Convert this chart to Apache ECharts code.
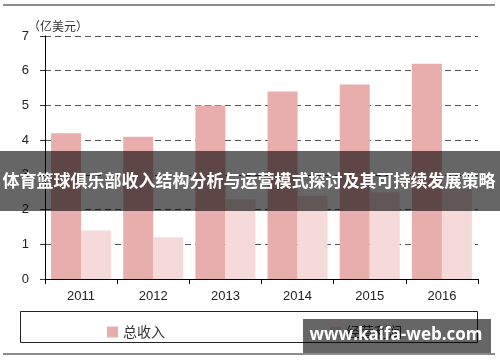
<!DOCTYPE html>
<html>
<head>
<meta charset="utf-8">
<script src="https://cdn.jsdelivr.net/npm/echarts@6/dist/echarts.min.js"></script>
<style>
html,body{margin:0;padding:0;background:#fff;}
#main{width:500px;height:362px;}
</style>
</head>
<body>
<div id="main"></div>
<script>
var categories = ['2011', '2012', '2013', '2014', '2015', '2016'];
var revenue = [4.2, 4.1, 5.0, 5.4, 5.6, 6.2];
var profit = [1.4, 1.2, 2.3, 2.4, 2.5, 2.6];
var seriesNames = ['总收入', '经营利润'];
var unitLabel = '（亿美元）';
var bannerText = '体育篮球俱乐部收入结构分析与运营模式探讨及其可持续发展策略';
var watermarkText = 'www.kaifa-web.com';

var chart = echarts.init(document.getElementById('main'), null, {renderer: 'canvas'});
chart.setOption({
  animation: false,
  backgroundColor: '#fff',
  grid: {left: 45, right: 22, top: 36, bottom: 83},
  legend: {
    left: 102, top: 320,
    itemWidth: 11, itemHeight: 11, itemGap: 165,
    icon: 'rect',
    textStyle: {fontFamily: 'Noto Sans CJK SC', fontSize: 14, color: '#333'},
    data: seriesNames
  },
  xAxis: {
    type: 'category',
    data: categories,
    axisLine: {lineStyle: {color: '#000', width: 1}},
    axisTick: {show: true, length: 5, lineStyle: {color: '#000'}},
    axisLabel: {margin: 11, fontFamily: 'Liberation Sans', fontSize: 13, color: '#222'}
  },
  yAxis: {
    type: 'value',
    min: 0, max: 7, interval: 1,
    axisLine: {show: true, lineStyle: {color: '#000', width: 1}},
    axisTick: {show: true, length: 5, lineStyle: {color: '#333'}},
    axisLabel: {margin: 16, fontFamily: 'Liberation Sans', fontSize: 13, color: '#222'},
    splitLine: {show: true, lineStyle: {color: '#555', type: [6, 4], width: 1}}
  },
  series: [
    {
      name: seriesNames[0], type: 'bar', data: revenue,
      barWidth: 30, barGap: '0%',
      itemStyle: {color: '#e8aeac'}
    },
    {
      name: seriesNames[1], type: 'bar', data: profit,
      barWidth: 30, barGap: '0%',
      itemStyle: {color: '#f6d9d9'}
    }
  ],
  graphic: [
    {type: 'line', shape: {x1: 3, y1: 5, x2: 495, y2: 5}, style: {stroke: '#8c8c8c', lineWidth: 2}, z: 1},
    {type: 'line', shape: {x1: 3, y1: 354, x2: 495, y2: 354}, style: {stroke: '#8c8c8c', lineWidth: 2}, z: 1},
    {type: 'text', left: 28, top: 20, style: {text: unitLabel, fontFamily: 'Noto Sans CJK SC', fontSize: 12, fill: '#333'}, z: 1},
    {type: 'rect', shape: {x: 20.5, y: 311.5, width: 457, height: 31}, style: {fill: 'none', stroke: '#222', lineWidth: 1}, z: 1},
    {type: 'rect', shape: {x: 0, y: 151, width: 500, height: 60}, style: {fill: 'rgba(0,0,0,0.6)'}, z: 100},
    {type: 'text', x: 249, y: 181, style: {text: bannerText, fontFamily: 'Noto Sans CJK SC', fontWeight: 'bold', fontSize: 17, fill: '#fff', align: 'center', verticalAlign: 'middle'}, z: 101},
    {type: 'rect', shape: {x: 303, y: 319, width: 188, height: 34}, style: {fill: 'rgba(0,0,0,0.6)'}, z: 100},
    {type: 'text', x: 396, y: 335, style: {text: watermarkText, fontFamily: 'Open Sans', fontWeight: 'bold', fontSize: 17, fill: '#fff', align: 'center', verticalAlign: 'middle'}, z: 101}
  ]
});
</script>
</body>
</html>
